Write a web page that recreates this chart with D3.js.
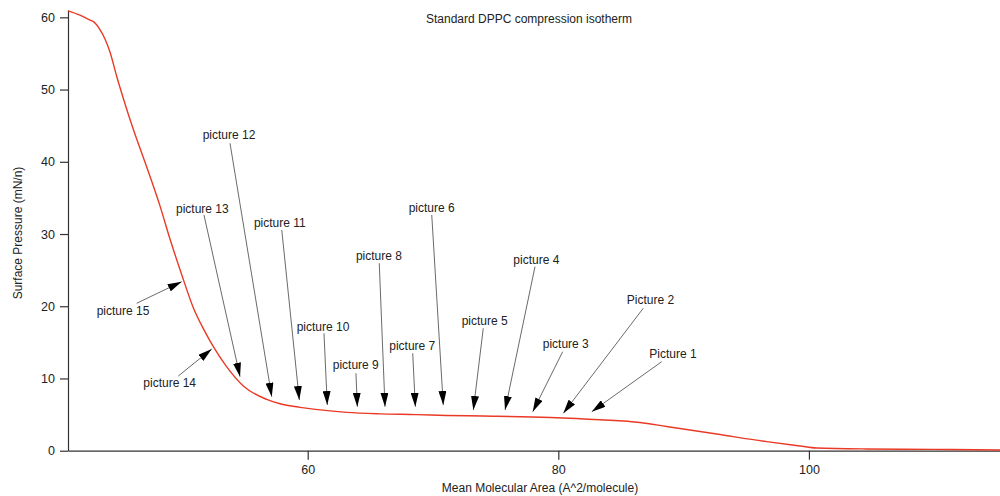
<!DOCTYPE html>
<html>
<head>
<meta charset="utf-8">
<script src="https://cdn.jsdelivr.net/npm/d3@7"></script>
<style>
  body { margin: 0; background: #fff; }
  text { font-family: Arial, "Liberation Sans", sans-serif; fill: #222; }
</style>
</head>
<body>
<div id="chart"></div>
<script>
// isotherm trace: mean molecular area (A^2) vs surface pressure (mN/m)
const area = [40.87, 41.83, 42.63, 42.9, 43.42, 43.82, 44.22, 44.76, 45.28, 46.08, 46.88, 47.55, 48.21, 49.01,
  49.94, 50.87, 51.67, 52.47, 53.54, 54.86, 56.73, 57.79, 59.39, 60.45, 63.11, 65.77, 68.7, 71.09, 73.99,
  79.34, 83.33, 86.52, 88.65, 92.64, 96.63, 99.3, 100.6, 104.6, 109.9, 115.25];
const pressure = [60.9, 60.3, 59.6, 59.4, 58.3, 57.0, 55.2, 51.8, 48.8, 44.5, 40.6, 37.3, 33.9, 29.3,
  24.4, 19.8, 16.9, 14.4, 11.6, 8.96, 7.1, 6.5, 6.0, 5.75, 5.3, 5.1, 5.0, 4.88, 4.8,
  4.6, 4.28, 3.9, 3.35, 2.31, 1.25, 0.65, 0.37, 0.24, 0.19, 0.1];

const xTicks = [60, 80, 100];
const yTicks = [0, 10, 20, 30, 40, 50, 60];

// annotations, all in data units
const labels = ["picture 15", "picture 14", "picture 13", "picture 12", "picture 11", "picture 10", "picture 9",
  "picture 8", "picture 7", "picture 6", "picture 5", "picture 4", "picture 3", "Picture 2", "Picture 1"];
const labelX = [43.16, 46.88, 49.49, 51.62, 55.71, 59.12, 62.00, 63.85, 66.51, 68.06, 72.29, 76.41, 78.76, 85.46, 87.26];
const labelY = [18.79, 8.86, 32.87, 43.12, 30.93, 16.62, 11.27, 26.41, 13.94, 33.09, 17.41, 25.85, 14.18, 20.31, 12.79];
const fromX = [46.35, 49.67, 51.72, 53.80, 57.93, 61.30, 63.85, 65.71, 68.38, 69.90, 74.01, 78.14, 80.35, 86.78, 88.25];
const fromY = [20.41, 10.34, 32.64, 42.56, 30.56, 16.26, 10.72, 25.95, 13.49, 32.64, 16.95, 25.48, 13.71, 19.72, 12.32];
const tipX = [49.94, 52.34, 54.60, 57.13, 59.33, 61.56, 63.96, 66.17, 68.59, 70.82, 73.22, 75.75, 77.96, 80.40, 82.67];
const tipY = [23.40, 14.08, 10.25, 7.48, 7.02, 6.33, 6.09, 6.09, 6.09, 6.33, 5.64, 5.64, 5.40, 5.18, 5.40];

const W = 1000, H = 496;
const svg = d3.select("#chart").append("svg")
  .attr("width", W)
  .attr("height", H);

const x = d3.scaleLinear().domain([40.87, 115.25]).range([68, 1000]);
const y = d3.scaleLinear().domain([0, 61]).range([450.7, 10.1]);

// arrowhead
svg.append("defs").append("marker")
  .attr("id", "head")
  .attr("viewBox", "0 0 14 8")
  .attr("refX", 14)
  .attr("refY", 4)
  .attr("markerWidth", 14)
  .attr("markerHeight", 8)
  .attr("markerUnits", "userSpaceOnUse")
  .attr("orient", "auto")
  .append("path")
  .attr("d", "M0,0 L14,4 L0,8 Z")
  .attr("fill", "#000");

// axes
const xAxis = svg.append("g")
  .attr("transform", `translate(0,${y(0)})`)
  .call(d3.axisBottom(x).tickValues(xTicks).tickSize(9).tickPadding(5).tickSizeOuter(0));
const yAxis = svg.append("g")
  .attr("transform", `translate(${x(40.87)},0)`)
  .call(d3.axisLeft(y).tickValues(yTicks).tickSize(8).tickPadding(5).tickSizeOuter(0));

[xAxis, yAxis].forEach(g => {
  g.selectAll("path, line").attr("stroke", "#333").attr("stroke-width", 1.2);
  g.selectAll("text").style("font-size", "12.5px").attr("fill", "#222");
});

// curve
const line = d3.line()
  .x((d, i) => x(area[i]))
  .y(d => y(d))
  .curve(d3.curveMonotoneX);

svg.append("path")
  .datum(pressure)
  .attr("d", line)
  .attr("fill", "none")
  .attr("stroke", "#ea3a26")
  .attr("stroke-width", 1.4);

// annotation arrows and labels
labels.forEach((lab, i) => {
  svg.append("line")
    .attr("x1", x(fromX[i])).attr("y1", y(fromY[i]))
    .attr("x2", x(tipX[i])).attr("y2", y(tipY[i]))
    .attr("stroke", "#444")
    .attr("stroke-width", 0.8)
    .attr("marker-end", "url(#head)");

  svg.append("text")
    .attr("x", x(labelX[i]))
    .attr("y", y(labelY[i]))
    .style("font-size", "12px")
    .text(lab);
});

// titles
svg.append("text")
  .attr("x", 529)
  .attr("y", 23)
  .attr("text-anchor", "middle")
  .style("font-size", "12px")
  .text("Standard DPPC compression isotherm");

svg.append("text")
  .attr("x", 540)
  .attr("y", 492)
  .attr("text-anchor", "middle")
  .style("font-size", "12px")
  .text("Mean Molecular Area (A^2/molecule)");

svg.append("text")
  .attr("transform", "translate(22,233) rotate(-90)")
  .attr("text-anchor", "middle")
  .style("font-size", "12px")
  .text("Surface Pressure (mN/n)");
</script>
</body>
</html>
